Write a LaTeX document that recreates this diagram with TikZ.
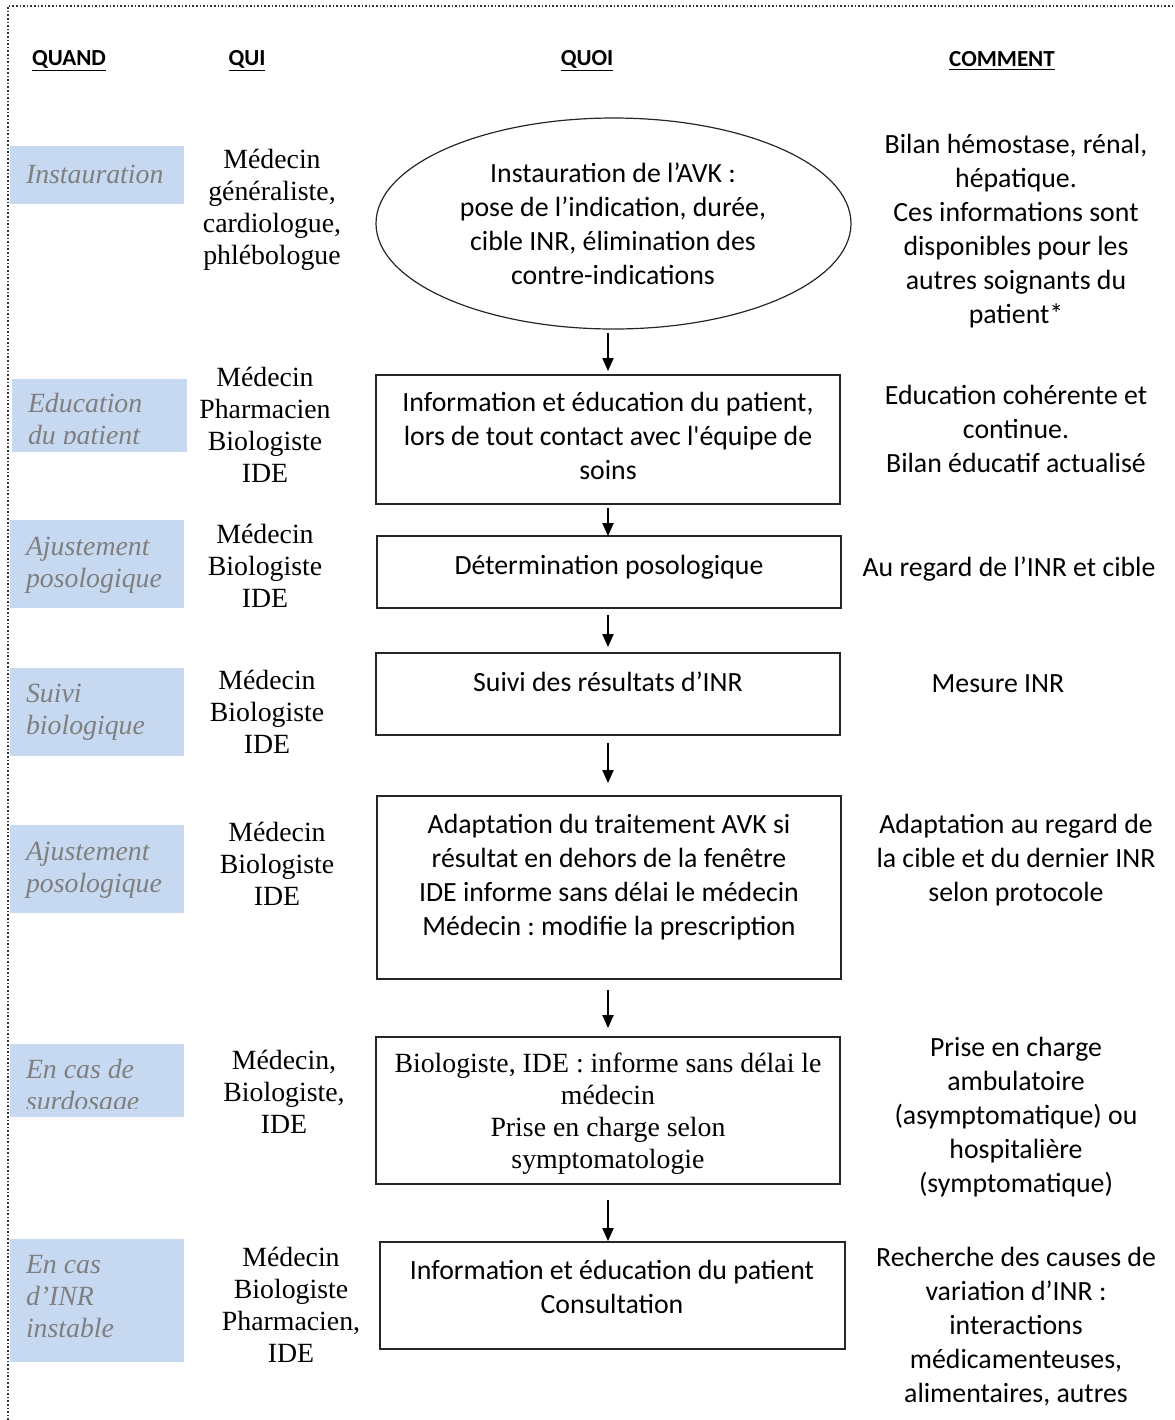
\documentclass[tikz,border=0pt]{standalone}
\usepackage{fontspec}
\setmainfont{Liberation Serif}
\newfontfamily\calib{Carlito}
\usetikzlibrary{shapes.geometric,arrows.meta}
\definecolor{whenblue}{HTML}{C6D9F1}
\definecolor{whengray}{HTML}{7F7F7F}
\definecolor{boxline}{HTML}{262626}
\frenchspacing
\begin{document}
\begin{tikzpicture}[x=0.5pt,y=-0.5pt,
  every node/.style={inner sep=0pt, outer sep=0pt},
  tx/.style={align=center, yshift=-1.5pt, execute at begin node=\strut, execute at end node=\strut},
  ser/.style={tx, font=\fontsize{13.9}{16}\selectfont},
  cal/.style={tx, font=\calib\fontsize{13.9}{17}\selectfont},
  hdr/.style={yshift=-1pt, font=\calib\bfseries\fontsize{11.5}{14}\selectfont},
  when/.style={align=left, anchor=west, yshift=-1.5pt, text=whengray, font=\itshape\fontsize{13.9}{16}\selectfont,
    execute at begin node=\strut, execute at end node=\strut},
  whenbox/.style={fill=whenblue, anchor=north west, minimum width=87pt},
  stepbox/.style={draw=boxline, line width=0.6pt},
  arr/.style={-{Triangle[length=6.5pt,width=5.6pt]}, line width=0.75pt},
]
\useasboundingbox (0,0) rectangle (1174,1420);
% frame
\draw[black!80, line width=0.8pt, densely dotted] (8,1420) -- (8,6) -- (1174,6);

% headers
\node[hdr] (hq) at (69,59) {\underline{QUAND}};
\node[hdr] (hqui) at (247,59) {\underline{QUI}};
\node[hdr] (hquoi) at (587,59) {\underline{QUOI}};
\node[hdr] (hcom) at (1002,59) {\underline{COMMENT}};

% QUAND boxes
\node[whenbox, minimum height=29pt] (q1) at (10,146) {};
\node[whenbox, minimum width=87.5pt, minimum height=36.5pt] (q2) at (12,379) {};
\node[whenbox, minimum height=44pt] (q3) at (10,520) {};
\node[whenbox, minimum height=44pt] (q4) at (10,668) {};
\node[whenbox, minimum height=44pt] (q5) at (10,825) {};
\node[whenbox, minimum height=36.5pt] (q6) at (10,1044) {};
\node[whenbox, minimum height=61.5pt] (q7) at (10,1239) {};

\node[when] (w1) at (26,174) {Instauration};
\begin{scope}
  \clip (q2.north west) rectangle ([yshift=4.5pt]q2.south east);
  \node[when] (w2) at (28,421) {Education\\du patient};
\end{scope}
\node[when] (w3) at (26,564) {Ajustement\\posologique};
\node[when] (w4) at (26,711) {Suivi\\biologique};
\node[when] (w5) at (26,869) {Ajustement\\posologique};
\begin{scope}
  \clip (q6.north west) rectangle ([yshift=4.5pt]q6.south east);
  \node[when] (w6) at (26,1087) {En cas de\\surdosage};
\end{scope}
\node[when] (w7) at (26,1298) {En cas\\d’INR\\instable};

% QUI
\node[ser] (p1) at (272,209) {Médecin\\généraliste,\\cardiologue,\\phlébologue};
\node[ser] (p2) at (265,427) {Médecin\\Pharmacien\\Biologiste\\IDE};
\node[ser] (p3) at (265,568) {Médecin\\Biologiste\\IDE};
\node[ser] (p4) at (267,714) {Médecin\\Biologiste\\IDE};
\node[ser] (p5) at (277,866) {Médecin\\Biologiste\\IDE};
\node[ser] (p6) at (284,1094) {Médecin,\\Biologiste,\\IDE};
\node[ser] (p7) at (291,1307) {Médecin\\Biologiste\\Pharmacien,\\IDE};

% QUOI
\node[stepbox, ellipse, minimum width=237.5pt, minimum height=105.5pt] (ell) at (613.5,223.5) {};
\node[cal] (t1) at (613,226) {Instauration de l’AVK :\\pose de l’indication, durée,\\cible INR, élimination des\\contre-indications};

\node[stepbox, minimum width=232pt, minimum height=64.5pt] (b2) at (608,439.5) {};
\node[cal] (t2) at (608,438) {Information et éducation du patient,\\lors de tout contact avec l'équipe de\\soins};

\node[stepbox, minimum width=232pt, minimum height=36pt] (b3) at (609,572) {};
\node[cal] (t3) at (609,565) {Détermination posologique};

\node[stepbox, minimum width=232pt, minimum height=41pt] (b4) at (608,694) {};
\node[cal] (t4) at (608,682) {Suivi des résultats d’INR};

\node[stepbox, minimum width=232pt, minimum height=91.5pt] (b5) at (609,887.5) {};
\node[cal] (t5) at (609,877) {Adaptation du traitement AVK si\\résultat en dehors de la fenêtre\\IDE informe sans délai le médecin\\Médecin : modifie la prescription};

\node[stepbox, minimum width=232pt, minimum height=73.5pt] (b6) at (608,1110.5) {};
\node[ser] (t6) at (608,1112) {Biologiste, IDE : informe sans délai le\\médecin\\Prise en charge selon\\symptomatologie};

\node[stepbox, minimum width=232.5pt, minimum height=53.5pt] (b7) at (612.5,1295.5) {};
\node[cal] (t7) at (612,1289) {Information et éducation du patient\\Consultation};

% arrows
\draw[arr, shorten <=2pt, shorten >=2pt] (b2.north |- ell.south) -- (b2.north);
\draw[arr, shorten <=2pt] (b2.south) -- (b2.south |- b3.north);
\draw[arr, shorten <=3.5pt, shorten >=3pt] (b2.south |- b3.south) -- (b2.south |- b4.north);
\draw[arr, shorten <=4pt, shorten >=6.5pt] (b4.south) -- (b4.south |- b5.north);
\draw[arr, shorten <=5.5pt, shorten >=4.5pt] (b4.south |- b5.south) -- (b6.north);
\draw[arr, shorten <=8pt, shorten >=0.5pt] (b6.south) -- (b6.south |- b7.north);

% COMMENT
\node[cal] (c1) at (1016,231) {Bilan hémostase, rénal,\\hépatique.\\Ces informations sont\\disponibles pour les\\autres soignants du\\patient*};
\node[cal] (c2) at (1016,431) {Education cohérente et\\continue.\\Bilan éducatif actualisé};
\node[cal] (c3) at (1009,567) {Au regard de l’INR et cible};
\node[cal] (c4) at (998,683) {Mesure INR};
\node[cal] (c5) at (1016,860) {Adaptation au regard de\\la cible et du dernier INR\\selon protocole};
\node[cal] (c6) at (1016,1117) {Prise en charge\\ambulatoire\\(asymptomatique) ou\\hospitalière\\(symptomatique)};
\node[cal] (c7) at (1016,1327) {Recherche des causes de\\variation d’INR :\\interactions\\médicamenteuses,\\alimentaires, autres};
\end{tikzpicture}
\end{document}
